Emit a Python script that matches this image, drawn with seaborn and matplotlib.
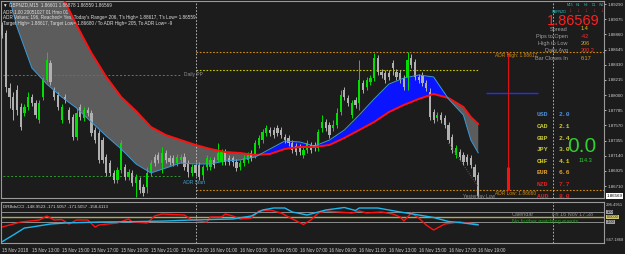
import matplotlib
matplotlib.use("Agg")
import numpy as np
import pandas as pd
import seaborn as sns
import matplotlib.pyplot as plt
from matplotlib.transforms import blended_transform_factory

# GBPNZD M15 candles, 15 Nov 11:00 onwards
opens = [1.88993, 1.88879, 1.88100, 1.87972, 1.88071, 1.87830, 1.87745, 1.87830, 1.87972, 1.87887,
         1.87646, 1.87972, 1.88213, 1.88454, 1.88071, 1.88000, 1.87646, 1.87972, 1.87788, 1.87688,
         1.87405, 1.87830, 1.87674, 1.87788, 1.87745, 1.87504, 1.87462, 1.87362, 1.87121, 1.87036,
         1.86895, 1.86795, 1.86937, 1.86980, 1.86838, 1.86895, 1.86753, 1.86795, 1.86696, 1.86696,
         1.86895, 1.87121, 1.87150, 1.87036, 1.87178, 1.87107, 1.87107, 1.87036, 1.87079, 1.87121,
         1.87036, 1.86895, 1.87008, 1.87008, 1.86866, 1.86980, 1.86980, 1.87079, 1.87079, 1.87051,
         1.87192, 1.87107, 1.87107, 1.87051, 1.86980, 1.87036, 1.87079, 1.87178, 1.87150, 1.87292,
         1.87362, 1.87462, 1.87504, 1.87504, 1.87532, 1.87504, 1.87405, 1.87391, 1.87320, 1.87277,
         1.87263, 1.87150, 1.87221, 1.87292, 1.87292, 1.87249, 1.87532, 1.87617, 1.87575, 1.87532,
         1.87575, 1.87759, 1.88071, 1.87958, 1.87717, 1.87929, 1.87887, 1.88170, 1.88114, 1.88185,
         1.88241, 1.88525, 1.88326, 1.88312, 1.88312, 1.88454, 1.88326, 1.88312, 1.88241, 1.88256,
         1.88525, 1.88468, 1.88256, 1.88284, 1.88170, 1.88043, 1.87759, 1.87674, 1.87717, 1.87674,
         1.87575, 1.87405, 1.87150, 1.87192, 1.87150, 1.87121, 1.87107, 1.86980, 1.86866]
highs = [1.89035, 1.88922, 1.88170, 1.88043, 1.88142, 1.87887, 1.87873, 1.88043, 1.88015, 1.87929,
         1.87929, 1.88256, 1.88610, 1.88496, 1.88114, 1.88043, 1.87873, 1.88015, 1.87830, 1.87731,
         1.87816, 1.87873, 1.87830, 1.87830, 1.87788, 1.87547, 1.87504, 1.87405, 1.87164, 1.87079,
         1.86937, 1.86980, 1.87362, 1.87022, 1.86951, 1.86937, 1.86880, 1.86838, 1.86739, 1.86980,
         1.87079, 1.87164, 1.87192, 1.87263, 1.87221, 1.87150, 1.87150, 1.87164, 1.87164, 1.87178,
         1.87079, 1.87022, 1.87051, 1.87051, 1.87008, 1.87150, 1.87121, 1.87121, 1.87320, 1.87235,
         1.87235, 1.87150, 1.87136, 1.87093, 1.87079, 1.87150, 1.87192, 1.87221, 1.87362, 1.87433,
         1.87518, 1.87575, 1.87547, 1.87547, 1.87575, 1.87547, 1.87447, 1.87433, 1.87362, 1.87320,
         1.87306, 1.87263, 1.87362, 1.87334, 1.87334, 1.87518, 1.87717, 1.87660, 1.87617, 1.87646,
         1.87816, 1.88071, 1.88114, 1.88000, 1.87929, 1.87972, 1.88496, 1.88213, 1.88256, 1.88284,
         1.88596, 1.88567, 1.88369, 1.88355, 1.88355, 1.88496, 1.88369, 1.88355, 1.88284, 1.88617,
         1.88582, 1.88511, 1.88298, 1.88326, 1.88213, 1.88100, 1.87802, 1.87759, 1.87759, 1.87717,
         1.87617, 1.87447, 1.87292, 1.87235, 1.87192, 1.87164, 1.87150, 1.87022, 1.86909]
lows = [1.88808, 1.88043, 1.87816, 1.87646, 1.87717, 1.87504, 1.87703, 1.87788, 1.87844, 1.87674,
        1.87603, 1.87929, 1.88185, 1.88142, 1.87929, 1.87788, 1.87603, 1.87887, 1.87603, 1.87362,
        1.87362, 1.87646, 1.87632, 1.87703, 1.87419, 1.87320, 1.87036, 1.87036, 1.86852, 1.86852,
        1.86753, 1.86753, 1.86895, 1.86795, 1.86795, 1.86710, 1.86554, 1.86611, 1.86568, 1.86611,
        1.86852, 1.86994, 1.87036, 1.86895, 1.87036, 1.87008, 1.86994, 1.86994, 1.87036, 1.86937,
        1.86838, 1.86852, 1.86852, 1.86795, 1.86795, 1.86937, 1.86937, 1.86965, 1.87051, 1.87008,
        1.87008, 1.87008, 1.86994, 1.86923, 1.86937, 1.86994, 1.87036, 1.87065, 1.87107, 1.87249,
        1.87320, 1.87419, 1.87419, 1.87391, 1.87419, 1.87391, 1.87320, 1.87277, 1.87178, 1.87150,
        1.87150, 1.87107, 1.87178, 1.87178, 1.87206, 1.87206, 1.87476, 1.87490, 1.87391, 1.87490,
        1.87532, 1.87717, 1.87929, 1.87844, 1.87674, 1.87816, 1.87788, 1.88029, 1.88071, 1.88142,
        1.88199, 1.88284, 1.88241, 1.88170, 1.88213, 1.88284, 1.88213, 1.88170, 1.88071, 1.88071,
        1.88383, 1.88213, 1.88170, 1.88128, 1.88057, 1.87646, 1.87603, 1.87632, 1.87603, 1.87532,
        1.87320, 1.87178, 1.87107, 1.87079, 1.87008, 1.87008, 1.86965, 1.86795, 1.86559]
closes = [1.88851, 1.88114, 1.87972, 1.87788, 1.87788, 1.87547, 1.87830, 1.87972, 1.87887, 1.87717,
          1.87887, 1.88213, 1.88496, 1.88185, 1.87972, 1.87830, 1.87830, 1.87929, 1.87646, 1.87405,
          1.87745, 1.87688, 1.87788, 1.87745, 1.87462, 1.87362, 1.87079, 1.87079, 1.86895, 1.86895,
          1.86795, 1.86937, 1.87320, 1.86838, 1.86909, 1.86753, 1.86838, 1.86654, 1.86611, 1.86895,
          1.87036, 1.87036, 1.87079, 1.87178, 1.87079, 1.87051, 1.87036, 1.87121, 1.87121, 1.86980,
          1.86909, 1.86980, 1.86895, 1.86838, 1.86980, 1.87107, 1.87079, 1.87008, 1.87178, 1.87192,
          1.87051, 1.87051, 1.87051, 1.86965, 1.87036, 1.87107, 1.87150, 1.87107, 1.87320, 1.87391,
          1.87476, 1.87532, 1.87462, 1.87433, 1.87462, 1.87433, 1.87362, 1.87320, 1.87221, 1.87192,
          1.87192, 1.87221, 1.87320, 1.87221, 1.87249, 1.87476, 1.87617, 1.87532, 1.87433, 1.87575,
          1.87745, 1.88000, 1.87972, 1.87887, 1.87887, 1.87859, 1.88213, 1.88071, 1.88213, 1.88241,
          1.88525, 1.88326, 1.88284, 1.88213, 1.88256, 1.88383, 1.88256, 1.88213, 1.88114, 1.88496,
          1.88426, 1.88256, 1.88213, 1.88170, 1.88100, 1.87688, 1.87646, 1.87717, 1.87646, 1.87575,
          1.87362, 1.87221, 1.87249, 1.87121, 1.87051, 1.87051, 1.87008, 1.86838, 1.86569]

# moving averages (fast = blue, slow = red), sampled along the chart
ma_bars = [0, 4, 8, 12, 16, 20, 24, 28, 32, 36, 40, 44, 48, 52, 56, 60, 64,
           68, 72, 76, 80, 84, 88, 92, 96, 100, 104, 108, 112, 116, 120, 124, 126, 128]
ma_fast = [1.89772, 1.88964, 1.88383, 1.88156, 1.87972, 1.87816, 1.87617, 1.87419, 1.87235,
           1.87022, 1.86895, 1.86965, 1.87036, 1.87022, 1.87022, 1.87065, 1.87079, 1.87121,
           1.87235, 1.87348, 1.87334, 1.87277, 1.87362, 1.87504, 1.87717, 1.87944, 1.88156,
           1.88241, 1.88284, 1.88256, 1.87944, 1.87717, 1.87362, 1.87178]
ma_slow = [1.90906, 1.90481, 1.90056, 1.89701, 1.89418, 1.88993, 1.88596, 1.88256, 1.87972,
           1.87773, 1.87547, 1.87433, 1.87362, 1.87292, 1.87235, 1.87192, 1.87178, 1.87150,
           1.87164, 1.87235, 1.87263, 1.87263, 1.87292, 1.87391, 1.87504, 1.87617, 1.87759,
           1.87859, 1.87944, 1.88015, 1.87958, 1.87830, 1.87688, 1.87589]

# CCI sub-window
cci_blue_bars = [0, 3, 6, 8, 13, 17, 26, 35, 44, 51, 62, 67, 70, 73, 76, 78, 82, 87, 92, 95,
                 96, 101, 107, 112, 116, 120, 123, 128]
cci_blue = [-495, -360, -220, -200, -140, -120, -100, -93, -80, -60, -40, 20, 140, 180, 180, 100,
            40, 140, 190, 130, 180, 180, 100, 40, -10, -90, -110, -158]
cci_red_bars = [0, 5, 10, 12, 14, 16, 18, 20, 23, 25, 26, 31, 34, 35, 39, 41, 43, 49, 51, 55,
                56, 59, 60, 62, 64, 67, 69, 72, 75, 77, 81, 83, 85, 87, 94, 96, 98, 102, 105, 107,
                108, 110, 112, 114, 116, 117, 119, 123, 128]
cci_red = [-200, -100, -60, 20, -60, -50, -140, -60, -60, -200, -160, -120, -40, -100, -120, 20,
           60, 40, -60, -100, 0, 0, 60, 20, -40, -20, 120, 140, 80, 0, -150, -60, 80, 120, 80,
           120, 80, 100, 60, 0, -80, 80, -20, -160, -260, -220, -140, -100, -149]
cci_levels = [100, 0, -100]

# levels
daily_pp = 1.88284
adr_start = 1.86852
adr_high = 1.88617
adr_low = 1.86660
yest_level = 1.88355
target_line = 1.88029
trend_bars = [120, 128]
trend_prices = [1.87320, 1.86696]

price_ticks = [1.86710, 1.86925, 1.87140, 1.87355, 1.87570, 1.87785, 1.88000,
               1.88215, 1.88430, 1.88645, 1.88860, 1.89075, 1.89290]
time_labels = ["15 Nov 2018", "15 Nov 13:00", "15 Nov 15:00", "15 Nov 17:00", "15 Nov 19:00",
               "15 Nov 21:00", "15 Nov 23:00", "16 Nov 01:00", "16 Nov 03:00", "16 Nov 05:00",
               "16 Nov 07:00", "16 Nov 09:00", "16 Nov 11:00", "16 Nov 13:00", "16 Nov 15:00",
               "16 Nov 17:00", "16 Nov 19:00"]

currencies = ["USD", "CAD", "GBP", "JPY", "CHF", "EUR", "NZD", "AUD"]
strength = [2.0, 2.1, 2.4, 3.0, 4.1, 6.6, 7.7, 8.0]
cur_colors = ["#4a8fd8", "#c8c83a", "#c8c83a", "#c8c83a", "#d8d020", "#e0a030", "#e02020", "#e02020"]

BG = "#1c1c1c"
sns.set_theme(style="dark", rc={"axes.facecolor": BG, "figure.facecolor": BG})
plt.rcParams["font.family"] = ["Liberation Sans", "DejaVu Sans"]

W, H = 625, 254
fig = plt.figure(figsize=(W / 100, H / 100), dpi=100)


def box(x0, y0, x1, y1):
    return [x0 / W, 1 - y1 / H, (x1 - x0) / W, (y1 - y0) / H]


def ftext(x, y, s, **kw):
    kw.setdefault("va", "center")
    fig.text(x / W, 1 - y / H, s, **kw)


ax = fig.add_axes(box(1, 1, 604, 198))
axc = fig.add_axes(box(1, 202, 604, 243))

df = pd.DataFrame({"o": opens, "h": highs, "l": lows, "c": closes})
df["bar"] = np.arange(len(df))
df["up"] = df["c"] >= df["o"]
xmax = 161.8

# MA ribbon
mb = np.array(ma_bars)
mf = np.array(ma_fast)
ms = np.array(ma_slow)
ax.fill_between(mb, mf, ms, where=mf >= ms, interpolate=True, color="#0a14ff", lw=0, zorder=1)
ax.fill_between(mb, mf, ms, where=mf < ms, interpolate=True, color="#5c5c5c", lw=0, zorder=1)

# candles
bull, bear = "#00e000", "#b0b0b0"
cols = np.where(df["up"], bull, bear)
ax.vlines(df["bar"], df["l"], df["h"], colors=cols, lw=0.7, zorder=3)
body = (df["c"] - df["o"]).abs().clip(lower=0.00012)
ax.bar(df["bar"], body, bottom=df[["o", "c"]].min(axis=1), width=0.6, color=cols, lw=0, zorder=3)

sns.lineplot(x=ma_bars, y=ma_slow, ax=ax, color="#ff1010", lw=1.4, sort=False, zorder=4)
sns.lineplot(x=ma_bars, y=ma_fast, ax=ax, color="#3a9ad9", lw=0.7, sort=False, zorder=4)
sns.lineplot(x=trend_bars, y=trend_prices, ax=ax, color="#e02020", lw=0.7, ls=(0, (1, 1.5)), zorder=4)

# levels
dash = (0, (2, 2))
ax.hlines([daily_pp, adr_start], -1, 48, colors="#2e9a2e", lw=0.7, linestyles=[dash])
ax.hlines([adr_high, adr_low], 52, xmax, colors="#d08a10", lw=0.8, linestyles=[(0, (1.5, 1.5))])
ax.hlines(yest_level, 52, 128, colors="#c8c800", lw=0.8, linestyles=[(0, (1.5, 1.5))])
ax.hlines(target_line, 130, 144, colors="#2030ff", lw=1.0)
ax.vlines(136, adr_low, adr_high, colors="#e01010", lw=0.8)
ax.vlines(136, adr_low, 1.86980, colors="#ff1010", lw=2.2)
ax.text(49, daily_pp, "Daily PP", color="#909090", fontsize=3.5, va="center")
ax.text(48.5, 1.86753, "ADR Start", color="#4aa0c8", fontsize=3.5, va="center")
ax.text(132.5, adr_high - 0.0002, "ADR High: 1.88617", color="#d08a10", fontsize=3.5, va="top")
ax.text(132.5, adr_low - 0.0002, "ADR Low: 1.86660", color="#d08a10", fontsize=3.5, va="top")
ax.text(124, 1.86558, "Yesterday Low", color="#909090", fontsize=3.5, va="center")

for a in (ax, axc):
    for d in (52, 148):
        a.axvline(d, color="#c8c8c8", lw=0.6, ls=(0, (2, 2)), zorder=2)
    a.set_xlim(-0.3, xmax)
    for s in a.spines.values():
        s.set_color("#9a9a9a")
        s.set_linewidth(0.8)
    a.set_xlabel("")
    a.set_ylabel("")

ax.set_ylim(1.86540, 1.89333)
ax.set_xticks([])
ax.yaxis.tick_right()
ax.set_yticks(price_ticks)
ax.set_yticklabels([f"{p:.5f}" for p in price_ticks])
ax.tick_params(axis="y", labelsize=3.2, colors="#d0d0d0", length=1.5, width=0.6, pad=0.8, right=True)
tr = blended_transform_factory(ax.transAxes, ax.transData)
ax.text(1.004, closes[-1], f"{closes[-1]:.5f}", transform=tr, fontsize=3.2, color="black",
        va="center", ha="left", bbox=dict(fc="white", ec="none", pad=0.5))

# CCI panel
axc.axhline(cci_levels[0], color="#8c8c8c", lw=0.7)
axc.axhline(cci_levels[1], color="#b4aa4a", lw=1.0)
axc.axhline(cci_levels[2], color="#8c8c8c", lw=0.7)
sns.lineplot(x=cci_red_bars, y=cci_red, ax=axc, color="#ff1010", lw=1.0, sort=False)
sns.lineplot(x=cci_blue_bars, y=cci_blue, ax=axc, color="#18b8f0", lw=1.0, sort=False)
axc.set_ylim(-520, 300)
axc.set_yticks([])
axc.set_xticks(range(0, 8 * len(time_labels), 8))
axc.set_xticklabels(time_labels)
axc.tick_params(axis="x", labelsize=3.3, colors="#d0d0d0", length=2, width=0.6, pad=1.5)
for lbl in axc.get_xticklabels():
    lbl.set_ha("left")
trc = blended_transform_factory(axc.transAxes, axc.transData)
axc.text(1.004, 100, "100", transform=trc, fontsize=2.8, color="#202020", va="center",
         bbox=dict(fc="#a0a0a0", ec="none", pad=0.3))
axc.text(1.004, 0, "0.0000", transform=trc, fontsize=2.8, color="#202020", va="center",
         bbox=dict(fc="#d0c870", ec="none", pad=0.3))
axc.text(1.004, -100, "-100", transform=trc, fontsize=2.8, color="#202020", va="center",
         bbox=dict(fc="#a0a0a0", ec="none", pad=0.3))
ftext(606, 205, "296.4951", fontsize=3, color="#c8c8c8")
ftext(606, 240, "-667.1868", fontsize=3, color="#c8c8c8")
ftext(3, 207, "DRBdsCCI -148.9523 -171.5057 -171.5057 -158.4113", fontsize=3.2, color="#d8d8d8")
ftext(512, 214, "Calendar", fontsize=4, color="#8c8c8c")
ftext(552, 214, "Fri 16 Nov 17:38", fontsize=4, color="#8c8c8c")
ftext(512, 222, "No further matching events", fontsize=4, color="#20a020")

# header text
hdr = dict(fontsize=3.3, color="#e0e0e0")
ftext(3, 5, "▼ GBPNZD,M15  1.86601 1.86878 1.86559 1.86569", **hdr)
ftext(3, 12, "ADR 1.00 20051027 01 Hmo 01", **hdr)
ftext(3, 18, "ADR Values: 196, Reached= Yes, Today's Range= 206, T's High= 1.88617, T's Low= 1.86559", **hdr)
ftext(3, 24, "Target High= 1.88617, Target Low= 1.86680 / To ADR High= 205, To ADR Low= -9", **hdr)

# dashboard
for i, tf in enumerate(["M15", "H1", "H4", "D1", "W1"]):
    ftext(570 + i * 8, 5, tf, fontsize=2.5, color="#30b8b8", ha="center")
    ftext(570 + i * 8, 11, "↓", fontsize=4.5, color="#ff2020", ha="center", weight="bold")
ftext(552, 12, "GBPNZD", fontsize=2.6, color="#30c0c0")
ftext(547, 21, "1.86569", fontsize=10.5, color="#ff2020")
rows = [("Spread", "1.4", "#e0c020"), ("Pips to Open", "-42", "#ff3030"),
        ("High to Low", "206", "#e0a020"), ("Daily Avg", "200.2", "#ff3030"),
        ("Bar Closes In", "6:17", "#e0a020")]
for i, (name, val, c) in enumerate(rows):
    ftext(568, 29 + i * 7.3, name, fontsize=4, color="#a0a0a0", ha="right")
    ftext(581, 29 + i * 7.3, val, fontsize=4, color=c)

for i, (cur, v, c) in enumerate(zip(currencies, strength, cur_colors)):
    ftext(537, 115 + i * 11.6, cur, fontsize=4.6, color=c, family="Liberation Mono", weight="bold")
    ftext(559, 115 + i * 11.6, f"{v:.1f}", fontsize=4.6, color=c, family="Liberation Mono", weight="bold")
ftext(582, 146, "0.0", fontsize=15, color="#30d030", ha="center")
ftext(585, 160, "114.3", fontsize=4, color="#30d030", ha="center")

fig.savefig("out.png", dpi=100, facecolor=BG)
